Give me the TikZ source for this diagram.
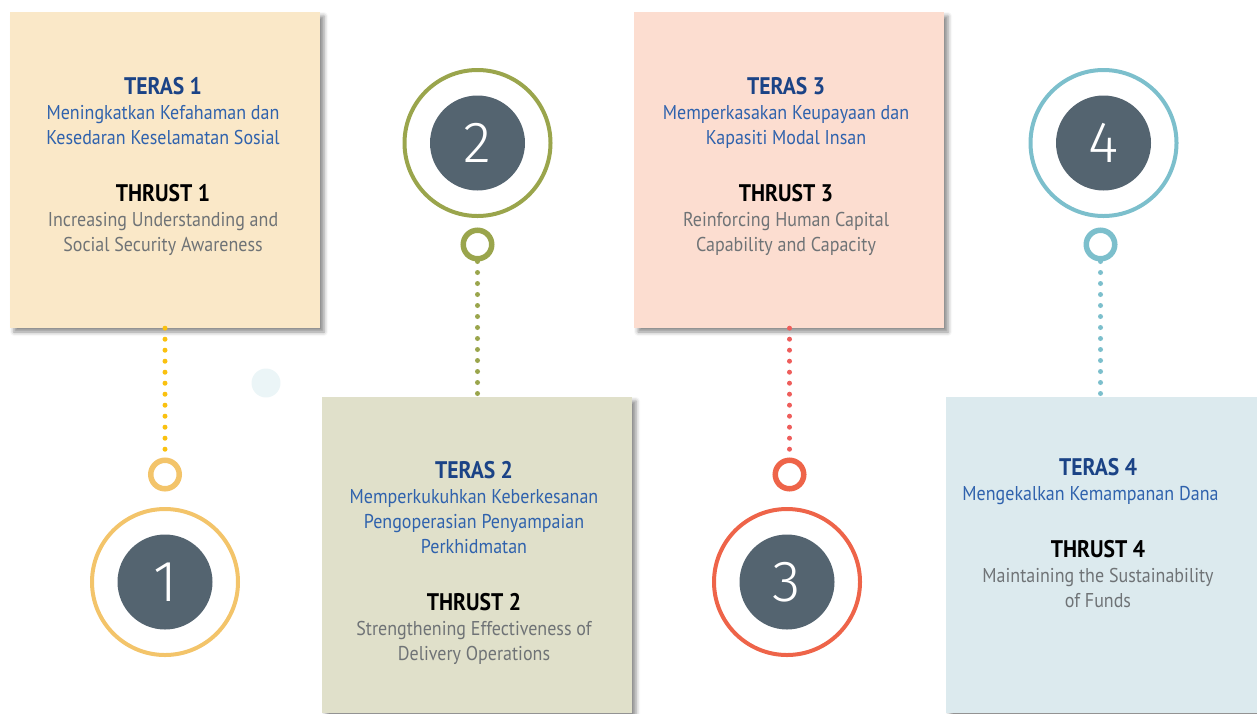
\documentclass[tikz,border=0pt]{standalone}
\usepackage{fontspec}
\setmainfont{PT Sans}[FakeStretch=0.9]
\newfontfamily\numfont{Fira Sans}[UprightFont=* Light]
\usetikzlibrary{shadows.blur}

\definecolor{paneA}{HTML}{FAE8C8}
\definecolor{paneB}{HTML}{E0E0CA}
\definecolor{paneC}{HTML}{FCDDD0}
\definecolor{paneD}{HTML}{DCEAEE}
\definecolor{ringA}{HTML}{F3C46A}
\definecolor{ringB}{HTML}{9AA54C}
\definecolor{ringC}{HTML}{EE6449}
\definecolor{ringD}{HTML}{7CBFCC}
\definecolor{dotA}{HTML}{FAC10F}
\definecolor{dotC}{HTML}{EE5E5C}
\definecolor{discgrey}{HTML}{546470}
\definecolor{terasblue}{HTML}{1B4386}
\definecolor{subblue}{HTML}{2F62AD}
\definecolor{descgrey}{HTML}{6F7376}
\definecolor{faint}{HTML}{EBF5F7}

\newcommand{\terasline}[1]{\textcolor{terasblue}{\fontsize{24}{25}\selectfont\bfseries #1}}
\newcommand{\subline}[1]{\textcolor{subblue}{#1}}
\newcommand{\thrustline}[1]{\textcolor{black}{\fontsize{24}{25}\selectfont\bfseries #1}}
\newcommand{\descline}[1]{\textcolor{descgrey}{#1}}

\begin{document}
\begin{tikzpicture}[x=1pt, y=-1pt,
    pane/.style = {rectangle, inner sep=0, minimum width=310pt, minimum height=316pt,
        blur shadow={shadow xshift=4pt, shadow yshift=-4pt, shadow blur radius=4pt, shadow opacity=45}},
    txt/.style = {anchor=north, align=center, inner sep=0, font=\fontsize{20}{25}\selectfont},
    ring/.style = {draw, circle, line width=4pt, minimum size=146pt, inner sep=0},
    disc/.style = {circle, fill=discgrey, minimum size=95pt, inner sep=0, text=white, font=\numfont\fontsize{58}{58}\selectfont},
    knob/.style = {draw, circle, line width=5.5pt, minimum size=28.5pt, inner sep=0},
    dots/.style = {line width=5pt, line cap=round, dash pattern=on 0pt off 11pt}]

    \useasboundingbox (0,0) rectangle (1257,713);

    % panels
    \node[pane, fill=paneA] (b1) at (165,170) {};
    \node[pane, fill=paneB] (b2) at (477,555) {};
    \node[pane, fill=paneC] (b3) at (789,170) {};
    \node[pane, fill=paneD, minimum width=311pt] (b4) at (1101.5,555) {};

    \node[txt] (t1) at (163,77) {\terasline{TERAS 1}\\ \subline{Meningkatkan Kefahaman dan}\\ \subline{Kesedaran Keselamatan Sosial}\\[32pt]
        \thrustline{THRUST 1}\\ \descline{Increasing Understanding and}\\ \descline{Social Security Awareness}};
    \node[txt] (t2) at (474,461) {\terasline{TERAS 2}\\ \subline{Memperkukuhkan Keberkesanan}\\ \subline{Pengoperasian Penyampaian}\\ \subline{Perkhidmatan}\\[32pt]
        \thrustline{THRUST 2}\\ \descline{Strengthening Effectiveness of}\\ \descline{Delivery Operations}};
    \node[txt] (t3) at (786,77) {\terasline{TERAS 3}\\ \subline{Memperkasakan Keupayaan dan}\\ \subline{Kapasiti Modal Insan}\\[32pt]
        \thrustline{THRUST 3}\\ \descline{Reinforcing Human Capital}\\ \descline{Capability and Capacity}};
    \node[txt] (t4) at (1098,458) {\terasline{TERAS 4}\\ \subline{Mengekalkan Kemampanan Dana\hspace*{15pt}}\\[32pt]
        \thrustline{THRUST 4}\\ \descline{Maintaining the Sustainability}\\ \descline{of Funds}};

    % number badges
    \node[ring, draw=ringA] (c1) at (165,582) {};
    \node[disc] (n1) at (c1) {1};
    \node[ring, draw=ringB] (c2) at (477.5,143) {};
    \node[disc] (n2) at (c2) {2};
    \node[ring, draw=ringC] (c3) at (787,582) {};
    \node[disc] (n3) at (c3) {3};
    \node[ring, draw=ringD] (c4) at (1103.5,143) {};
    \node[disc] (n4) at (c4) {4};

    \node[knob, draw=ringA] (k1) at (165,474.5) {};
    \node[knob, draw=ringB] (k2) at (477.5,244.5) {};
    \node[knob, draw=ringC] (k3) at (789.5,474.5) {};
    \node[knob, draw=ringD] (k4) at (1100.5,244.5) {};

    \node[circle, fill=faint, minimum size=29pt, inner sep=0] (f1) at (266,383) {};

    % dotted links
    \draw[dots, dotA] (b1.south) -- (k1.north);
    \draw[dots, ringB] (k2.south) -- (b2.north -| k2);
    \draw[dots, dotC] (b3.south -| k3) -- (k3.north);
    \draw[dots, ringD] (k4.south) -- (b4.north -| k4);

\end{tikzpicture}
\end{document}
